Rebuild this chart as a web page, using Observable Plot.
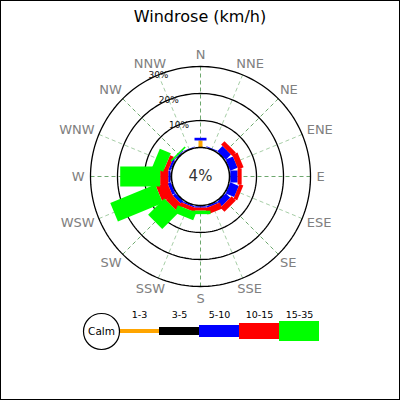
<!DOCTYPE html>
<html><head><meta charset="utf-8">
<script src="https://cdn.jsdelivr.net/npm/d3@7"></script>
<script src="https://cdn.jsdelivr.net/npm/@observablehq/plot@0.6"></script>
<style>
body{margin:0;background:#fff;}
#wrap{position:relative;width:400px;height:400px;outline:1px solid #000;outline-offset:-1px;font-family:"DejaVu Sans",sans-serif;overflow:hidden;background:#fff}
#title{position:absolute;left:0;top:0;width:400px;height:34px;line-height:34px;text-align:center;font-size:16px;color:#000}
#main{position:absolute;left:0;top:0}
#legend{position:absolute;left:0;top:301px}
</style></head><body>
<div id="wrap"><div id="main"></div><div id="title">Windrose (km/h)</div><div id="legend"></div></div>
<script>
// ---- data ----
const directions = ["N","NNE","NE","ENE","E","ESE","SE","SSE","S","SSW","SW","WSW","W","WNW","NW","NNW"];
const speedClasses = ["1-3","3-5","5-10","10-15","15-35"];
const s1_3   = [2.6,0,  0,  0,  0,  0,  0,  0,  0,  0,  0,  0,   0.1, 0.1, 0.2, 0];
const s3_5   = [0,  0.2,0.3,0.3,0.3,0.3,0.3,0.3,0.3,0.3,0.3,0.3, 0.3, 0.3, 0.2, 0.2];
const s5_10  = [1.0,0.3,2.7,2.9,2.7,3.4,2.3,0.6,0.5,0.5,1.2,1.2, 0.8, 0.8, 0.3, 0.2];
const s10_15 = [0,  0,  1.8,2.1,1.5,1.5,2.2,2.4,1.1,1.5,3.0,4.4, 3.0, 1.5, 0,   0];
const s15_35 = [0,  0,  0,  0,  0,  0,  0,  0,  1.3,3.0,8.5,18.0,14.8,4.4, 0.6, 0];
const calmPercent = 4;
const ringTicks = [10, 20, 30];

// ---- styles / layout ----
const K = 2.7;              // px per percent
const CALM = 29 / K;        // calm circle radius in percent units
const classColors = ["#ffa500","#000000","#0000ff","#ff0000","#00ff00"];
const classWidths = [4, 8, 12, 16, 20];
const series = [s1_3, s3_5, s5_10, s10_15, s15_35];
const emW = {N:.748, E:.632, S:.635, W:.989};
const ang = i => i * Math.PI / 8;

const bars = [];
series.forEach((s, j) => {
  directions.forEach((d, i) => {
    const ux = Math.sin(ang(i)), uy = Math.cos(ang(i));
    let r0 = CALM;
    for (let k = 0; k < j; k++) r0 += series[k][i];
    const v = s[i];
    if (v > 0) bars.push({dir: d, cls: speedClasses[j], x1: ux*r0, y1: uy*r0, x2: ux*(r0+v), y2: uy*(r0+v), color: classColors[j], w: classWidths[j]});
  });
});

const circle = (r, key) => d3.range(0, 181).map(k => ({x: r*Math.sin(k*2*Math.PI/180), y: r*Math.cos(k*2*Math.PI/180), key}));
const rings = ringTicks.flatMap(t => circle(CALM + t, t));
const rMax = d3.max(ringTicks);

const labelX = (d, i) => {
  const w = d.split("").reduce((a, c) => a + emW[c], 0) * 13;
  return Math.sin(ang(i))*(116 + w/2)/K;
};

const main = Plot.plot({
  width: 400, height: 400, margin: 0,
  x: {domain: [-200/K, 200/K], axis: null},
  y: {domain: [-224/K, 176/K], axis: null},
  color: {type: "identity"},
  style: {background: "transparent", fontFamily: "DejaVu Sans"},
  marks: [
    Plot.link(directions, {
      x1: (d,i) => Math.sin(ang(i))*CALM, y1: (d,i) => Math.cos(ang(i))*CALM,
      x2: (d,i) => Math.sin(ang(i))*(CALM+rMax), y2: (d,i) => Math.cos(ang(i))*(CALM+rMax),
      stroke: (d,i) => i % 2 ? "#9cc79c" : "#5e9e5e", strokeWidth: 0.9, strokeDasharray: "4,3"
    }),
    Plot.line(rings, {x: "x", y: "y", z: "key", stroke: "#000", strokeWidth: 1.3}),
    Plot.link(bars, {x1: "x1", y1: "y1", x2: "x2", y2: "y2", stroke: "color", strokeWidth: "w", strokeLinecap: "butt"}),
    Plot.line(circle(CALM, 0), {x: "x", y: "y", fill: "white", stroke: "#000", strokeWidth: 1.5}),
    Plot.text([calmPercent], {x: () => 0, y: () => 0, text: d => d + "%", fontSize: 15, fill: "#333"}),
    Plot.text(ringTicks, {x: t => -Math.sin(Math.PI/8)*(CALM+t), y: t => Math.cos(Math.PI/8)*(CALM+t), text: t => t + "%", fontSize: 9, fill: "#111"}),
    Plot.text(directions, {
      x: (d,i) => labelX(d,i),
      y: (d,i) => Math.cos(ang(i))*(116 + 6)/K,
      text: d => d, fontSize: 13, fill: "#808080"
    })
  ]
});
document.getElementById("main").appendChild(main);

const legendData = speedClasses.map((c, j) => ({cls: c, color: classColors[j], w: classWidths[j]}));
const legend = Plot.plot({
  width: 400, height: 60, marginLeft: 119, marginRight: 81, marginTop: 0, marginBottom: 0,
  x: {type: "band", domain: speedClasses, padding: 0, axis: null},
  y: {domain: [-30, 30], axis: null},
  color: {type: "identity"},
  style: {background: "transparent", fontFamily: "DejaVu Sans"},
  marks: [
    Plot.barY(legendData, {x: "cls", y1: d => -d.w/2, y2: d => d.w/2, fill: "color", inset: 0}),
    Plot.text(speedClasses, {x: d => d, y: () => 17, text: d => d, fontSize: 9.5, fill: "#000"}),
    Plot.dot([calmPercent], {frameAnchor: "left", dx: -18, r: 18, fill: "white", stroke: "#000", strokeWidth: 1.2}),
    Plot.text(["Calm"], {frameAnchor: "left", dx: -18, textAnchor: "middle", text: d => d, fontSize: 10.5, fill: "#000"})
  ]
});
document.getElementById("legend").appendChild(legend);
</script>
</body></html>
